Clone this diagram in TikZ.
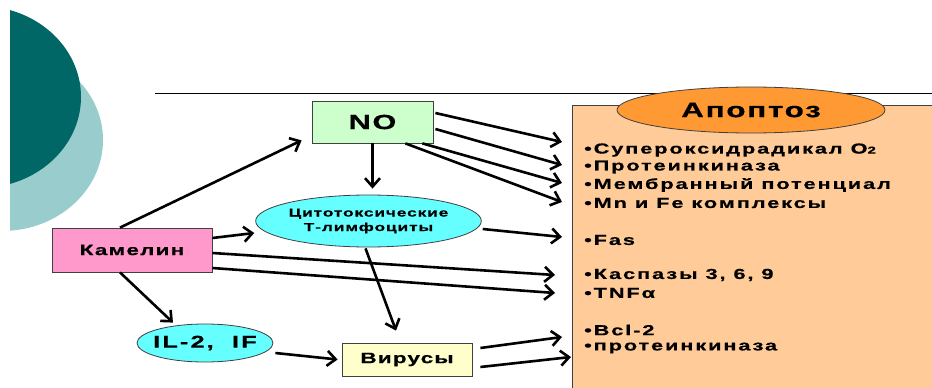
\documentclass[tikz,border=0pt]{standalone}
\usepackage{fontspec}
\setmainfont{Liberation Sans}
\newfontfamily\wf{Liberation Sans}[FakeStretch=1.5,LetterSpace=8,FakeBold=0.6]
\newfontfamily\lf{Liberation Sans}[FakeStretch=1.5,LetterSpace=13,FakeBold=0.6]
\usetikzlibrary{arrows.meta,calc,shapes.geometric}
\definecolor{dteal}{RGB}{0,102,102}
\definecolor{lteal}{RGB}{153,204,204}
\definecolor{nogreen}{RGB}{204,255,204}
\definecolor{kpink}{RGB}{255,153,204}
\definecolor{ecyan}{RGB}{102,255,255}
\definecolor{vyellow}{RGB}{255,255,204}
\definecolor{peach}{RGB}{255,204,153}
\definecolor{aorange}{RGB}{255,153,51}
\tikzset{
  bx/.style={draw=black!75,line width=0.8pt,inner sep=0pt},
  el/.style={ellipse,draw=black!75,line width=0.8pt,inner sep=0pt,fill=ecyan},
  arr/.style={line width=2.6pt,-{Straight Barb[length=8.5pt,width=15pt]}},
  tx/.style={font=\wf\bfseries\fontsize{#1}{#1}\selectfont},
  li/.style={anchor=west,inner sep=0pt,font=\lf\bfseries\fontsize{14.5}{14.5}\selectfont}
}
\begin{document}
\begin{tikzpicture}[x=1pt,y=-1pt]
\useasboundingbox (0,0) rectangle (932,388);
\begin{scope}
\clip (10,0) rectangle (932,388);
\fill[lteal] (2,140) ellipse [x radius=101, y radius=91];
\fill[dteal] (-20,97) ellipse [x radius=101, y radius=91];
\end{scope}
\draw[line width=1pt] (155,93) -- (932,93);
\begin{scope}
\clip (0,0) rectangle (932,388);
\node[bx,fill=peach,minimum width=380,minimum height=300,anchor=north west] (apbox) at (572,105) {};
\end{scope}
\node[el,fill=aorange,minimum width=268,minimum height=46,tx=21] (apo) at (751,110) {Апоптоз};
% list
\node[li] (l1) at (584,150) {•Супероксидрадикал O{\fontsize{10}{10}\selectfont 2}};
\node[li] (l2) at (584,167) {•Протеинкиназа};
\node[li] (l3) at (584,185) {•Мембранный потенциал};
\node[li] (l4) at (584,203) {•Mn и Fe комплексы};
\node[li] (l5) at (584,240) {•Fas};
\node[li] (l6) at (584,275) {•Каспазы 3, 6, 9};
\node[li] (l7) at (584,293) {•TNFα};
\node[li] (l8) at (584,330) {•Bcl-2};
\node[li] (l9) at (584,348) {•протеинкиназа};
% nodes
\node[bx,fill=nogreen,minimum width=121,minimum height=42,tx=20.5] (no) at (372.5,122) {NO};
\node[el,minimum width=206,minimum height=52,align=center,tx=11.5] (cyto) at (368.5,221) {Цитотоксические\\[3pt]Т-лимфоциты};
\node[bx,fill=kpink,minimum width=160,minimum height=44,tx=15] (kam) at (132,250) {Камелин};
\node[el,minimum width=136,minimum height=38,font=\lf\bfseries\fontsize{17}{17}\selectfont\addfontfeature{LetterSpace=12}] (il) at (205,343) {\makebox[0pt]{IL-2,\ \ IF}};
\node[bx,fill=vyellow,minimum width=130,minimum height=33,tx=15] (vir) at (407,359.5) {Вирусы};
% targets
\coordinate (t1) at (562,142);
\coordinate (t2) at (562,165);
\coordinate (t3) at (562,183);
\coordinate (t4) at (562,202);
\coordinate (t5) at (562,237);
\coordinate (t6) at (555,275);
\coordinate (t7) at (555,293);
\coordinate (t8) at (562,337);
\coordinate (t9) at (571,357);
% arrows
\draw[arr] ($(kam.north)+(-12,0)$) -- ($(no.south west)+(-10,-3)$);
\draw[arr] ($(kam.east)+(0,-12)$) -- ($(cyto.west)+(-1,12)$);
\draw[arr] ($(kam.east)+(0,3)$) -- (t6);
\draw[arr] ($(kam.east)+(0,18)$) -- (t7);
\draw[arr] ($(kam.south)+(-12,0)$) -- ($(il.north)+(-32,-1)$);
\draw[arr] ($(il.east)+(2,10)$) -- ($(vir.west)+(-4,0)$);
\draw[arr] ($(cyto.south)+(-3,1)$) -- ($(vir.north)+(-11,-12)$);
\draw[arr] (no.south) -- ($(cyto.north -| no.south)+(0,-6)$);
\draw[arr] ($(no.east)+(2,-9)$) -- (t1);
\draw[arr] ($(no.east)+(2,7)$) -- (t2);
\draw[arr] ($(no.south east)+(-11,0)$) -- (t3);
\draw[arr] ($(no.south east)+(-28,0)$) -- (t4);
\draw[arr] ($(cyto.east)+(1,8)$) -- (t5);
\draw[arr] ($(vir.east)+(8,-11.5)$) -- (t8);
\draw[arr] ($(vir.east)+(8,7.5)$) -- (t9);
\end{tikzpicture}
\end{document}
